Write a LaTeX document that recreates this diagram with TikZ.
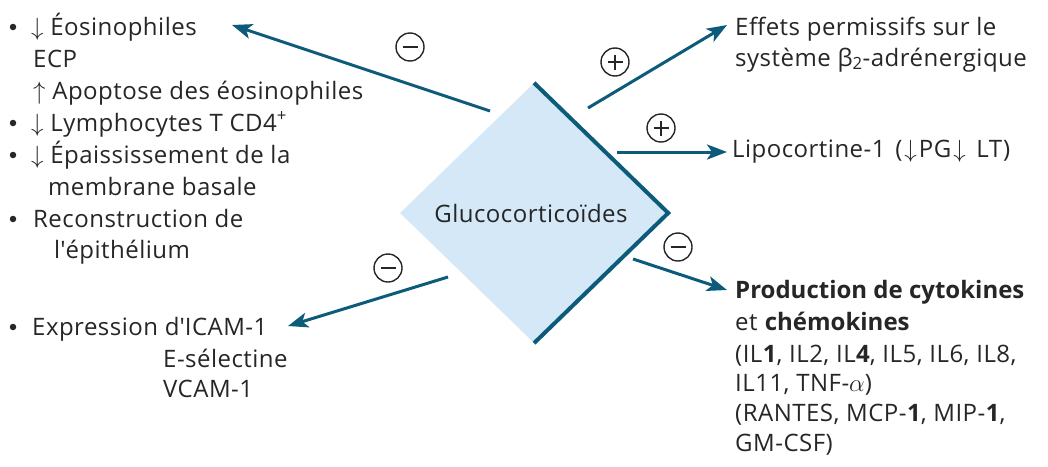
\documentclass[tikz,border=0pt]{standalone}
\usepackage{fontspec}
\setmainfont{Open Sans}[LetterSpace=2,BoldFeatures={LetterSpace=0}]
\usetikzlibrary{shapes.geometric,arrows.meta}
\definecolor{dkteal}{HTML}{0D5B7A}
\definecolor{lightblue}{HTML}{D4E8F7}
\tikzset{
  txt/.style={anchor=base west, inner sep=0pt, text=black!85},
  bul/.style={circle, fill=black!85, minimum size=6.5pt, inner sep=0pt},
  sgn/.style={circle, draw=black!85, line width=1.4pt, minimum size=28pt, inner sep=0pt},
  minussign/.style={sgn, path picture={\draw[line width=2.4pt,black!85] ([xshift=-7.5pt]path picture bounding box.center) -- ([xshift=7.5pt]path picture bounding box.center);}},
  plussign/.style={sgn, path picture={\draw[line width=1.8pt,black!85] ([xshift=-7.5pt]path picture bounding box.center) -- ([xshift=7.5pt]path picture bounding box.center) ([yshift=-7.5pt]path picture bounding box.center) -- ([yshift=7.5pt]path picture bounding box.center);}},
  arr/.style={draw=dkteal, line width=3pt, -{Stealth[length=20pt,width=15pt,inset=5pt]}},
}
\begin{document}
\begin{tikzpicture}[x=1pt,y=-1pt,font=\fontsize{24}{28}\selectfont]
\useasboundingbox (0,0) rectangle (1048,466);
% diamond
\node[diamond, fill=lightblue, minimum width=268pt, minimum height=260pt, inner sep=0pt] (g) at (534,213) {};
\node[inner sep=0pt, text=black!85] (gt) at (531,213) {Glucocorticoïdes};
\draw[dkteal, line width=4pt] (g.north) -- (g.east) -- (g.south);
% left texts
\node[bul] (b1) at (13,27) {};
\node[txt] (l1) at (31,35) {$\downarrow$ Éosinophiles};
\node[txt] (l2) at (33,67) {ECP};
\node[txt] (l3) at (33,99) {$\uparrow$ Apoptose des éosinophiles};
\node[bul] (b2) at (13,123) {};
\node[txt] (l4) at (31,131) {$\downarrow$ Lymphocytes T CD4\textsuperscript{+}};
\node[bul] (b3) at (13,155) {};
\node[txt] (l5) at (31,163) {$\downarrow$ Épaississement de la};
\node[txt] (l6) at (48,195) {membrane basale};
\node[bul] (b4) at (13,219) {};
\node[txt] (l7) at (33,227) {Reconstruction de};
\node[txt] (l8) at (54,258) {l\textquotesingle épithélium};
\node[bul] (b5) at (13,327) {};
\node[txt] (l9) at (32,335) {Expression d\textquotesingle ICAM-1};
\node[txt] (l10) at (163,367) {E-sélectine};
\node[txt] (l11) at (163,397) {VCAM-1};
% right texts
\node[txt] (r1) at (735,35) {Effets permissifs sur le};
\node[txt] (r2) at (735,66) {système β\textsubscript{2}-adrénergique};
\node[txt] (r3) at (732,157) {Lipocortine-1\hspace{3pt} (\hspace{2pt}$\downarrow$\hspace{2pt}PG\hspace{2pt}$\downarrow$\hspace{4pt} LT\hspace{1pt})};
\node[txt] (r4) at (735,298) {\textbf{Production de cytokines}};
\node[txt] (r5) at (735,330) {et \textbf{chémokines}};
\node[txt] (r6) at (735,362) {(IL\textbf{1}, IL2, IL\textbf{4}, IL5, IL6, IL8,};
\node[txt] (r7) at (735,391) {IL11, TNF-$\alpha$)};
\node[txt] (r8) at (735,421) {(RANTES, MCP-\textbf{1}, MIP-\textbf{1},};
\node[txt] (r9) at (735,451) {GM-CSF)};
% arrow endpoints
\coordinate (a1s) at (490,111); \coordinate (a1e) at (232,25);
\coordinate (a2s) at (588,108); \coordinate (a2e) at (727,25);
\coordinate (a3s) at (617,152); \coordinate (a3e) at (727,152);
\coordinate (a4s) at (633,259); \coordinate (a4e) at (727,290);
\coordinate (a5s) at (448,277); \coordinate (a5e) at (288,326);
\draw[arr] (a1s) -- (a1e);
\draw[arr] (a2s) -- (a2e);
\draw[arr] (a3s) -- (a3e);
\draw[arr] (a4s) -- (a4e);
\draw[arr] (a5s) -- (a5e);
% signs
\node[minussign] (m1) at (410,47) {};
\node[plussign] (p2) at (615,62) {};
\node[plussign] (p3) at (661,128) {};
\node[minussign] (m4) at (678,247) {};
\node[minussign] (m5) at (388,268) {};
\end{tikzpicture}
\end{document}
